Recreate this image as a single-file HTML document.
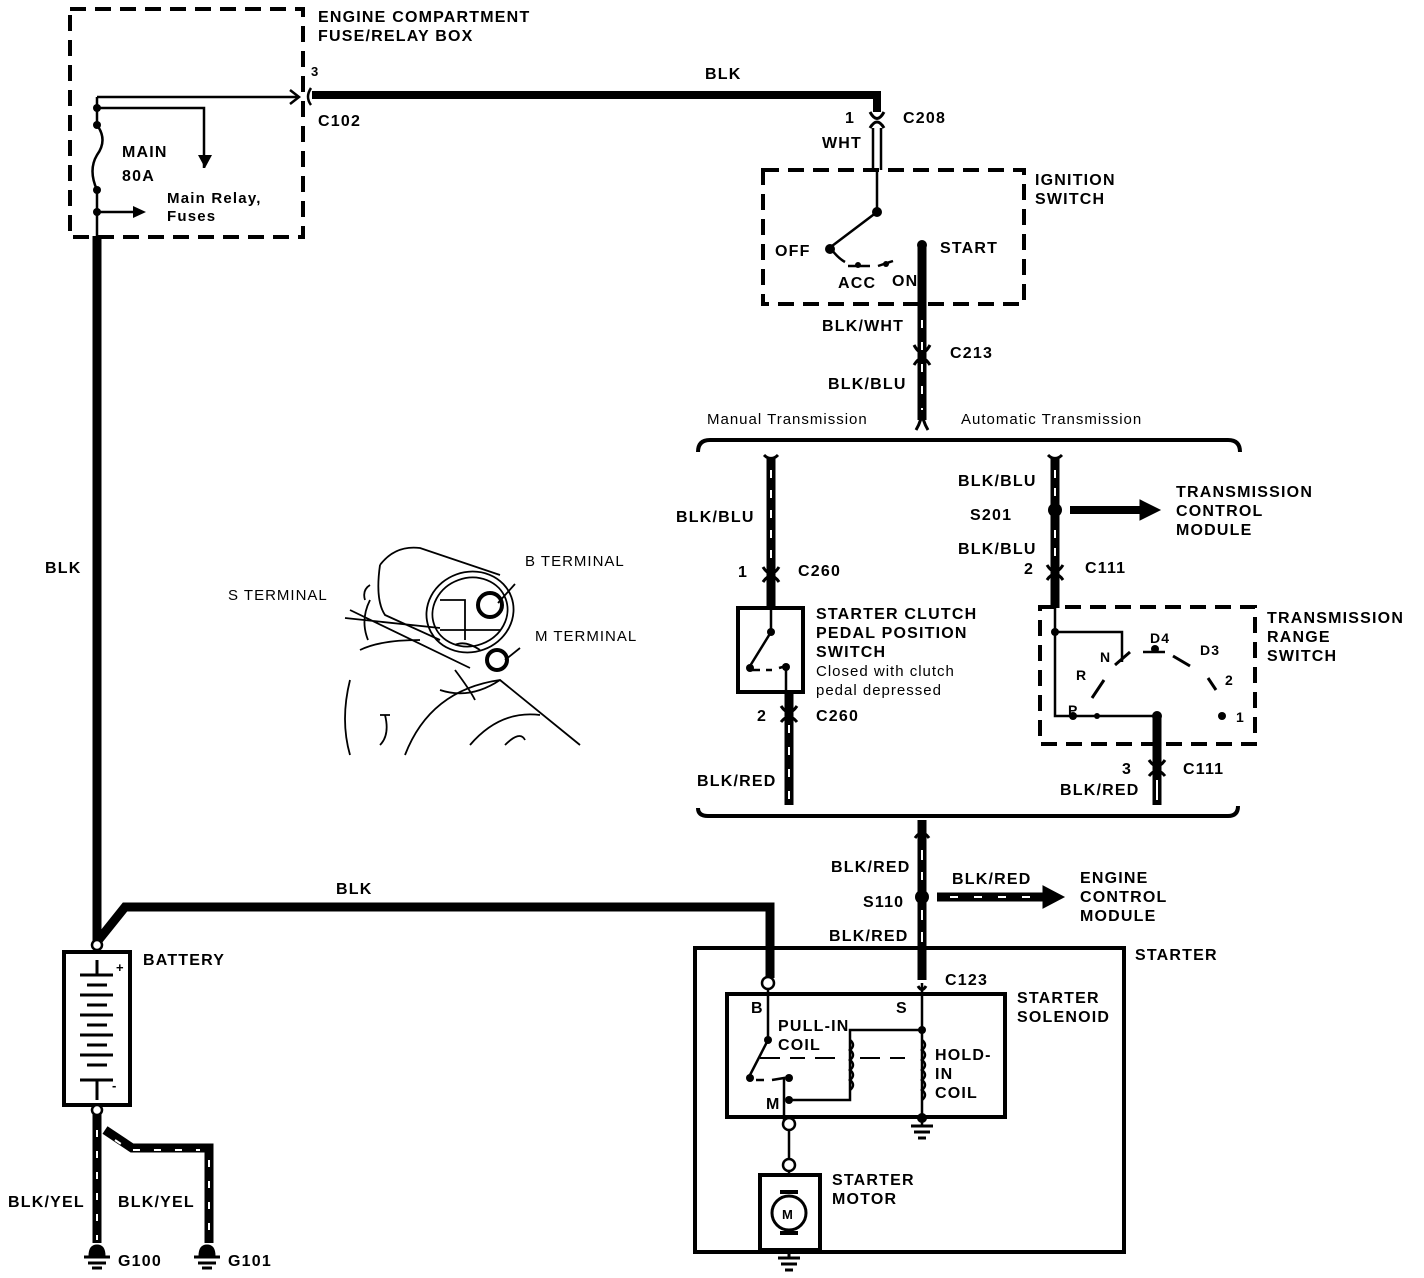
<!DOCTYPE html>
<html><head><meta charset="utf-8"><style>
html,body{margin:0;padding:0;background:#fff}
svg{display:block}
text{font-family:"Liberation Sans",sans-serif;font-weight:bold;font-size:16px;letter-spacing:1.2px;fill:#000}
.n{font-weight:normal;font-size:15px;letter-spacing:1px}
</style></head><body>
<svg width="1424" height="1278" viewBox="0 0 1424 1278" xmlns="http://www.w3.org/2000/svg">
<g fill="none" stroke="#000">
<rect x="70" y="9" width="233" height="228" stroke-width="4" stroke-dasharray="16,9"/>
<path d="M97,97 H297" stroke-width="2.5"/>
<path d="M290,90 L299,97 L290,104" stroke-width="2.5"/>
<path d="M311,88 Q305,97 311,105" stroke-width="2.5"/>
<path d="M97,108 H204 V168" stroke-width="2.5"/>
<path d="M97,97 V125 Q108,140 97,155 Q88,170 97,190 V238" stroke-width="2.5"/>
<path d="M97,212 H135" stroke-width="2.5"/>
<path d="M312,95 H877 V112" stroke-width="8"/>
<path d="M870,112 Q877,125 884,112" stroke-width="3"/>
<path d="M870,128 Q877,116 884,128" stroke-width="3"/>
<path d="M873,128 V170 M881,128 V170" stroke-width="2.5"/>
<rect x="763" y="170" width="261" height="134" stroke-width="4" stroke-dasharray="16,9"/>
<path d="M877,170 V212 L832,246" stroke-width="2.5"/>
<path d="M832,250 Q838,258 845,262 M848,266 H870 M878,266 L893,261" stroke-width="2.5"/>
<path d="M922,245 V420" stroke-width="9"/>
<path d="M922,320 V420" stroke="#fff" stroke-width="2" stroke-dasharray="8,14"/>
<path d="M914,345 Q922,360 930,345 M914,365 Q922,352 930,365" stroke-width="3"/>
<path d="M698,452 Q698,440 710,440 H1228 Q1240,440 1240,452" stroke-width="4"/>
<path d="M916,430 Q922,420 922,410 Q922,420 928,430" stroke-width="3"/>
<path d="M771,458 V608" stroke-width="9"/>
<path d="M771,470 V560" stroke="#fff" stroke-width="2" stroke-dasharray="8,12"/>
<path d="M764,455 Q771,462 778,455" stroke-width="3"/>
<path d="M763,567 Q771,580 779,567 M763,582 Q771,570 779,582" stroke-width="3"/>
<rect x="738" y="608" width="65" height="84" stroke-width="4"/>
<path d="M771,608 V632 L750,666" stroke-width="2.5"/>
<path d="M752,670 H760 M766,670 H772 M779,668 L786,666 V692" stroke-width="2.5"/>
<path d="M789,692 V805" stroke-width="9"/>
<path d="M789,725 V800" stroke="#fff" stroke-width="2" stroke-dasharray="8,14"/>
<path d="M781,706 Q789,718 797,706 M781,722 Q789,712 797,722" stroke-width="3"/>
<path d="M1055,458 V608" stroke-width="9"/>
<path d="M1055,470 V500 M1055,530 V560" stroke="#fff" stroke-width="2" stroke-dasharray="8,10"/>
<path d="M1048,455 Q1055,462 1062,455" stroke-width="3"/>
<path d="M1047,565 Q1055,578 1063,565 M1047,580 Q1055,568 1063,580" stroke-width="3"/>
<path d="M1070,510 H1140" stroke-width="8"/>
<path d="M1140,500 L1160,510 L1140,520z" fill="#000"/>
<rect x="1040" y="607" width="215" height="137" stroke-width="4" stroke-dasharray="16,9"/>
<path d="M1055,607 V716 H1157 M1055,632 H1122 V662" stroke-width="2.5"/>
<path d="M1115,665 L1130,652 M1092,698 L1104,680 M1173,656 L1190,666 M1208,678 L1216,690" stroke-width="3"/>
<path d="M1143,652 H1165" stroke-width="2.5"/>
<path d="M1157,716 V805" stroke-width="9"/>
<path d="M1157,780 V800" stroke="#fff" stroke-width="2"/>
<path d="M1149,760 Q1157,772 1165,760 M1149,776 Q1157,766 1165,776" stroke-width="3"/>
<path d="M698,808 Q698,816 708,816 H1228 Q1238,816 1238,806" stroke-width="4"/>
<path d="M922,820 V980" stroke-width="9"/>
<path d="M922,850 V880 M922,910 V950" stroke="#fff" stroke-width="2" stroke-dasharray="10,12"/>
<path d="M915,838 Q922,828 929,838" stroke-width="3"/>
<path d="M937,897 H1045" stroke-width="9"/>
<path d="M950,897 H1040" stroke="#fff" stroke-width="2" stroke-dasharray="8,16"/>
<path d="M1043,886 L1064,897 L1043,908z" fill="#000"/>
<rect x="695" y="948" width="429" height="304" stroke-width="4"/>
<path d="M97,236 V942" stroke-width="9"/>
<path d="M97,942 L125,907 H770 V978" stroke-width="9"/>
<rect x="727" y="994" width="278" height="123" stroke-width="4"/>
<path d="M768,986 V1040 L750,1075" stroke-width="2.5"/>
<path d="M756,1080 H764 M772,1080 L784,1078 V1124" stroke-width="2.5"/>
<path d="M760,1058 H780 M790,1058 H805 M815,1058 H835 M860,1058 H880 M890,1058 H905" stroke-width="2"/>
<path d="M922,983 V1125" stroke-width="2.5"/>
<path d="M918,986 Q922,993 926,986" stroke-width="3"/>
<path d="M922,1030 H850 V1100 H789" stroke-width="2.5"/>
<path d="M850,1040 q6,5 0,10 q6,5 0,10 q6,5 0,10 q6,5 0,10 q6,5 0,10" stroke-width="2.5"/>
<path d="M922,1040 q6,5 0,10 q6,5 0,10 q6,5 0,10 q6,5 0,10 q6,5 0,10 q6,5 0,10" stroke-width="2.5"/>
<path d="M911,1126 H933 M914,1132 H930 M918,1138 H926" stroke-width="3"/>
<path d="M789,1124 V1175" stroke-width="2.5"/>
<rect x="760" y="1175" width="60" height="75" stroke-width="4"/>
<circle cx="789" cy="1213" r="17" stroke-width="3"/>
<path d="M780,1192 H798 M780,1233 H798" stroke-width="4"/>
<path d="M789,1250 V1258 M778,1258 H800 M781,1264 H797 M785,1270 H793" stroke-width="3"/>
<rect x="64" y="952" width="66" height="153" stroke-width="4"/>
<path d="M97,960 V975 M80,975 H113 M87,985 H107 M80,995 H113 M87,1005 H107 M80,1015 H113 M87,1025 H107 M80,1035 H113 M87,1045 H107 M80,1055 H113 M87,1065 H107 M80,1080 H113 M97,1080 V1100" stroke-width="3"/>
<path d="M97,1110 V1243 M105,1130 L132,1148 H209 V1243" stroke-width="9"/>
<path d="M97,1130 V1240 M209,1160 V1240 M115,1140 L130,1150 H200" stroke="#fff" stroke-width="2" stroke-dasharray="7,14"/>
<path d="M90,1256 Q90,1246 97,1246 Q104,1246 104,1256z M84,1257 H110 M88,1263 H106 M92,1268 H102" stroke-width="3" fill="#000"/>
<path d="M200,1256 Q200,1246 207,1246 Q214,1246 214,1256z M194,1257 H220 M198,1263 H216 M202,1268 H212" stroke-width="3" fill="#000"/>
<g fill="#fff" stroke-width="2.5">
<circle cx="97" cy="945" r="5"/><circle cx="97" cy="1110" r="5"/>
<circle cx="768" cy="983" r="6"/><circle cx="789" cy="1124" r="6"/><circle cx="789" cy="1165" r="6"/>
</g>
<g fill="#000" stroke="none">
<circle cx="97" cy="108" r="4"/><circle cx="97" cy="125" r="4"/><circle cx="97" cy="190" r="4"/><circle cx="97" cy="212" r="4"/>
<circle cx="877" cy="212" r="5"/><circle cx="830" cy="249" r="5"/><circle cx="922" cy="245" r="5"/>
<circle cx="858" cy="265" r="3"/><circle cx="886" cy="264" r="3"/>
<circle cx="1055" cy="510" r="7"/><circle cx="922" cy="897" r="7"/>
<circle cx="771" cy="632" r="4"/><circle cx="750" cy="668" r="4"/><circle cx="786" cy="667" r="4"/>
<circle cx="1055" cy="632" r="4"/><circle cx="1157" cy="716" r="5"/><circle cx="1155" cy="649" r="4"/><circle cx="1222" cy="716" r="4"/><circle cx="1073" cy="716" r="4"/><circle cx="1097" cy="716" r="3"/>
<circle cx="768" cy="1040" r="4"/><circle cx="750" cy="1078" r="4"/><circle cx="789" cy="1078" r="4"/><circle cx="789" cy="1100" r="4"/><circle cx="922" cy="1030" r="4"/><circle cx="922" cy="1118" r="5"/>
</g>
<path d="M205,168 L198,155 H212z" fill="#000" stroke="none"/>
<path d="M133,206 L146,212 L133,218z" fill="#000" stroke="none"/>
<g stroke-width="1.8">
<path d="M380,565 Q395,545 420,548 L500,575"/>
<path d="M380,565 Q375,600 385,615 L440,640"/>
<ellipse cx="470" cy="612" rx="44" ry="40" transform="rotate(-20 470 612)"/>
<ellipse cx="470" cy="612" rx="38" ry="34" transform="rotate(-20 470 612)"/>
<circle cx="490" cy="605" r="12" stroke-width="4"/><circle cx="497" cy="660" r="10" stroke-width="4"/>
<path d="M440,600 H465 V640 M440,630 H500 M455,645 Q465,640 480,650"/>
<path d="M345,618 L440,628 M350,610 L470,668 M498,603 L515,584 M505,660 L520,648"/>
<path d="M370,600 Q360,620 368,640 M370,585 Q362,590 365,600"/>
<path d="M350,680 Q340,720 350,755 M360,650 Q380,640 420,640"/>
<path d="M440,690 Q470,700 500,680 M455,670 Q470,690 475,700"/>
<path d="M405,755 Q430,690 500,680 L580,745"/>
<path d="M470,745 Q500,710 540,715 M505,745 Q520,730 525,740"/>
<path d="M385,715 Q390,735 380,745 M380,715 H390"/>
</g>
</g>
<text x="318" y="22">ENGINE COMPARTMENT</text>
<text x="318" y="41">FUSE/RELAY BOX</text>
<text x="311" y="76" style="font-size:13px">3</text>
<text x="318" y="126">C102</text>
<text x="122" y="157">MAIN</text>
<text x="122" y="181">80A</text>
<text x="167" y="203" style="font-size:15px">Main Relay,</text>
<text x="167" y="221" style="font-size:15px">Fuses</text>
<text x="705" y="79">BLK</text>
<text x="845" y="123">1</text>
<text x="903" y="123">C208</text>
<text x="822" y="148">WHT</text>
<text x="1035" y="185">IGNITION</text>
<text x="1035" y="204">SWITCH</text>
<text x="775" y="256">OFF</text>
<text x="940" y="253">START</text>
<text x="838" y="288">ACC</text>
<text x="892" y="286">ON</text>
<text x="822" y="331">BLK/WHT</text>
<text x="950" y="358">C213</text>
<text x="828" y="389">BLK/BLU</text>
<text x="707" y="424" class="n">Manual Transmission</text>
<text x="961" y="424" class="n">Automatic Transmission</text>
<text x="676" y="522">BLK/BLU</text>
<text x="738" y="577">1</text>
<text x="798" y="576">C260</text>
<text x="816" y="619">STARTER CLUTCH</text>
<text x="816" y="638">PEDAL POSITION</text>
<text x="816" y="657">SWITCH</text>
<text x="816" y="676" class="n">Closed with clutch</text>
<text x="816" y="695" class="n">pedal depressed</text>
<text x="757" y="721">2</text>
<text x="816" y="721">C260</text>
<text x="697" y="786">BLK/RED</text>
<text x="958" y="486">BLK/BLU</text>
<text x="970" y="520">S201</text>
<text x="1176" y="497">TRANSMISSION</text>
<text x="1176" y="516">CONTROL</text>
<text x="1176" y="535">MODULE</text>
<text x="958" y="554">BLK/BLU</text>
<text x="1024" y="574">2</text>
<text x="1085" y="573">C111</text>
<text x="1267" y="623">TRANSMISSION</text>
<text x="1267" y="642">RANGE</text>
<text x="1267" y="661">SWITCH</text>
<text x="1150" y="643" style="font-size:14px">D4</text>
<text x="1200" y="655" style="font-size:14px">D3</text>
<text x="1100" y="662" style="font-size:14px">N</text>
<text x="1076" y="680" style="font-size:14px">R</text>
<text x="1225" y="685" style="font-size:14px">2</text>
<text x="1068" y="715" style="font-size:14px">P</text>
<text x="1236" y="722" style="font-size:14px">1</text>
<text x="1122" y="774">3</text>
<text x="1183" y="774">C111</text>
<text x="1060" y="795">BLK/RED</text>
<text x="831" y="872">BLK/RED</text>
<text x="952" y="884">BLK/RED</text>
<text x="863" y="907">S110</text>
<text x="1080" y="883">ENGINE</text>
<text x="1080" y="902">CONTROL</text>
<text x="1080" y="921">MODULE</text>
<text x="829" y="941">BLK/RED</text>
<text x="1135" y="960">STARTER</text>
<text x="945" y="985">C123</text>
<text x="1017" y="1003">STARTER</text>
<text x="1017" y="1022">SOLENOID</text>
<text x="751" y="1013">B</text>
<text x="896" y="1013">S</text>
<text x="778" y="1031">PULL-IN</text>
<text x="778" y="1050">COIL</text>
<text x="935" y="1060">HOLD-</text>
<text x="935" y="1079">IN</text>
<text x="935" y="1098">COIL</text>
<text x="766" y="1109">M</text>
<text x="832" y="1185">STARTER</text>
<text x="832" y="1204">MOTOR</text>
<text x="782" y="1219" style="font-size:13px;letter-spacing:0">M</text>
<text x="336" y="894">BLK</text>
<text x="45" y="573">BLK</text>
<text x="143" y="965">BATTERY</text>
<text x="116" y="972" style="font-size:13px">+</text>
<text x="112" y="1090" style="font-size:13px">-</text>
<text x="8" y="1207">BLK/YEL</text>
<text x="118" y="1207">BLK/YEL</text>
<text x="118" y="1266">G100</text>
<text x="228" y="1266">G101</text>
<text x="228" y="600" class="n">S TERMINAL</text>
<text x="525" y="566" class="n">B TERMINAL</text>
<text x="535" y="641" class="n">M TERMINAL</text>
</svg>
</body></html>
